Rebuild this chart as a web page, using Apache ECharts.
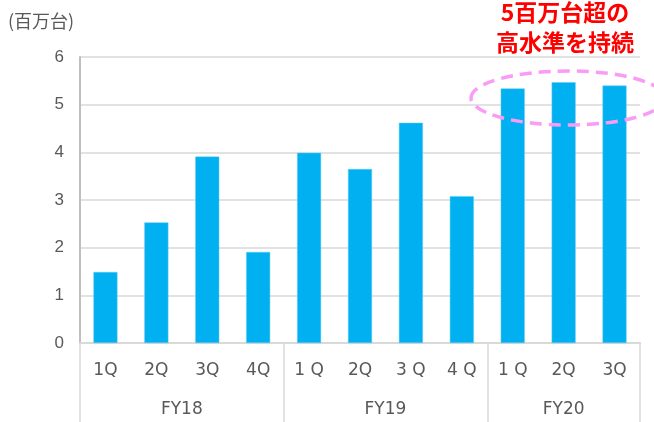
<!DOCTYPE html>
<html>
<head>
    <meta charset="UTF-8">
    <title></title>
    <style>
        html, body { margin: 0; padding: 0; background: #fff; }
        #container { width: 654px; height: 422px; }
    </style>
</head>
<body>
    <div id="container"></div>
    <script src="https://cdn.jsdelivr.net/npm/echarts@6/dist/echarts.min.js"></script>
    <script>
        // 四半期ラベル（元図のスペースもそのまま）
        var quarters = ['1Q', '2Q', '3Q', '4Q', '1 Q', '2Q', '3 Q', '4 Q', '1 Q', '2Q', '3Q'];
        var sales = [1.49, 2.53, 3.91, 1.91, 3.99, 3.65, 4.62, 3.08, 5.34, 5.47, 5.40];
        var fiscalYears = ['FY18', 'FY19', 'FY20'];
        var fySize = [4, 4, 3];
        var yTicks = [0, 1, 2, 3, 4, 5, 6];

        // FY の区切り位置と中央位置
        var fyBounds = [0], fyCenters = [];
        fySize.forEach(function (n, i) {
            var start = fyBounds[fyBounds.length - 1];
            fyCenters.push(start + n / 2);
            fyBounds.push(start + n);
        });

        var labelFont = 'DejaVu Sans';
        var myChart = echarts.init(document.getElementById('container'));
        myChart.setOption({
            animation: false,
            grid: { left: 80, right: 14, top: 57, bottom: 79 },
            xAxis: [
                {
                    type: 'category',
                    data: quarters,
                    axisLine: { show: true, lineStyle: { color: '#d9d9d9', width: 2 } },
                    axisTick: { show: false },
                    axisLabel: { color: '#595959', fontSize: 17, fontFamily: labelFont, margin: 19 }
                },
                {
                    type: 'value',
                    position: 'bottom',
                    min: 0,
                    max: fyBounds[fyBounds.length - 1],
                    splitLine: { show: false },
                    axisLine: { show: false },
                    axisTick: {
                        show: true,
                        customValues: fyBounds,
                        length: 80,
                        lineStyle: { color: '#d9d9d9', width: 1.5 }
                    },
                    axisLabel: {
                        customValues: fyCenters,
                        formatter: function (v) {
                            return fiscalYears[fyCenters.indexOf(v)];
                        },
                        color: '#595959', fontSize: 17, fontFamily: labelFont, margin: 58
                    }
                }
            ],
            yAxis: {
                type: 'value',
                min: yTicks[0],
                max: yTicks[yTicks.length - 1],
                interval: 1,
                axisLine: { show: true, lineStyle: { color: '#bfbfbf', width: 2 } },
                axisTick: { show: false },
                splitLine: { lineStyle: { color: '#d9d9d9', width: 1.5 } },
                axisLabel: { color: '#595959', fontSize: 17, fontFamily: 'Liberation Sans', margin: 16 }
            },
            series: [
                {
                    type: 'bar',
                    xAxisIndex: 0,
                    data: sales,
                    barWidth: 24,
                    itemStyle: { color: '#00b0f0', borderColor: '#5fcbf2', borderWidth: 0.5 }
                }
            ],
            graphic: [
                {
                    type: 'text',
                    left: 8, top: 12,
                    style: { text: '(百万台)', fill: '#595959', fontSize: 18, fontFamily: 'Noto Sans CJK JP' }
                },
                {
                    type: 'text',
                    x: 565, y: -3,
                    style: {
                        text: '5百万台超の\n高水準を持続',
                        fill: '#ff0000',
                        fontSize: 23,
                        fontWeight: 'bold',
                        fontFamily: 'Noto Sans CJK JP',
                        lineHeight: 30,
                        align: 'center'
                    }
                },
                {
                    type: 'ellipse',
                    shape: { cx: 568, cy: 98, rx: 97, ry: 27 },
                    style: { fill: 'none', stroke: '#fa9cf6', lineWidth: 3.5, lineDash: [12, 7] },
                    z: 100
                }
            ]
        });
    </script>
</body>
</html>
